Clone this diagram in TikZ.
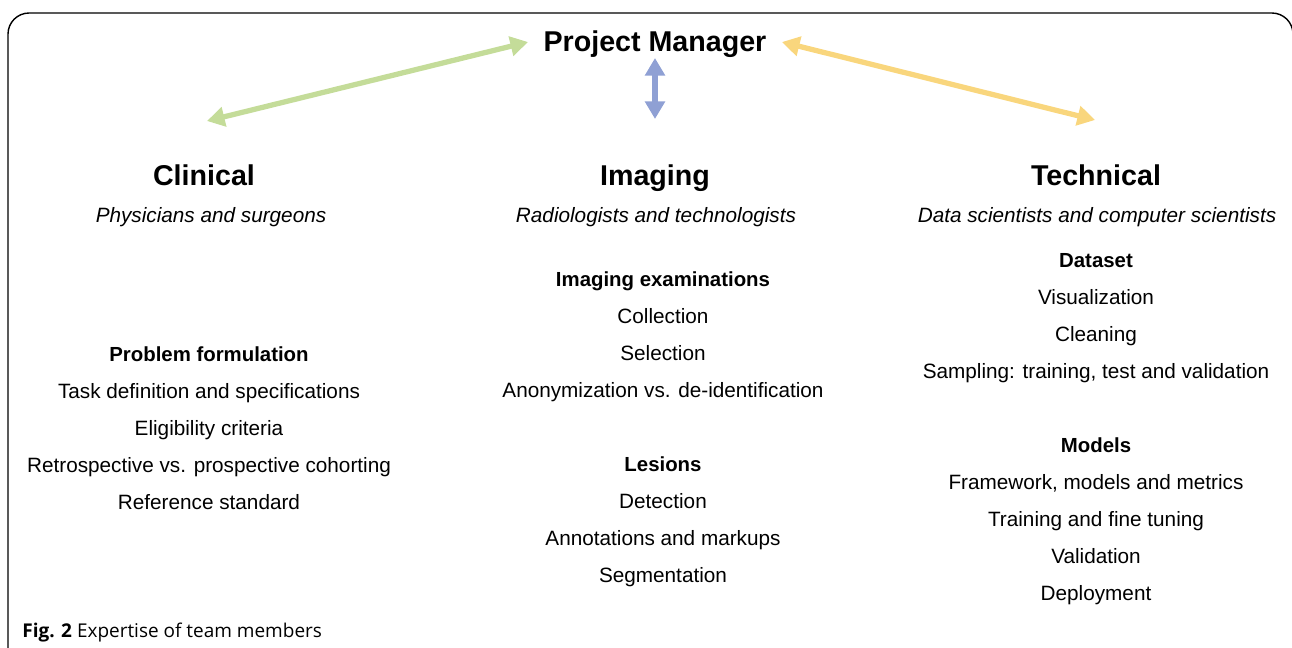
\documentclass[tikz,border=0pt]{standalone}
\usepackage{fontspec}
\setmainfont{Liberation Sans}
\newfontfamily\capfont{Open Sans}
\usetikzlibrary{arrows.meta}
\usetikzlibrary{positioning}
\definecolor{clingreen}{RGB}{196,220,153}
\definecolor{imgblue}{RGB}{143,160,212}
\definecolor{techyellow}{RGB}{249,214,125}
\tikzset{>={Triangle[width=11pt,length=10pt]}}

\begin{document}
\begin{tikzpicture}[x=0.02cm,y=-0.02cm,
	field/.style={inner sep=0pt, anchor=base, font=\bfseries\fontsize{16.3}{19}\selectfont},
	role/.style={inner sep=0pt, anchor=base, font=\itshape\fontsize{11.8}{14}\selectfont},
	topic/.style={inner sep=0pt, text height=1.5ex, text depth=.3ex, font=\bfseries\fontsize{11.6}{14}\selectfont},
	item/.style={inner sep=0pt, text height=1.5ex, text depth=.3ex, font=\fontsize{11.8}{14}\selectfont},
	link/.style={line width=3pt, <->},
	node distance=0.74cm, on grid]
	\useasboundingbox (0,0) rectangle (1292,647);
	\clip (0,0) rectangle (1292,647);
	\draw[line width=0.8pt, rounded corners=12] (8,670) -- (8,13) -- (1293,13) -- (1293,670);

	\node[field] (pm) at (655,51.5) {Project Manager};
	\node[field] (clin) at (204,185) {Clinical};
	\node[field] (img) at (655,185) {Imaging};
	\node[field] (tech) at (1096,185) {Technical};
	\node[role] (clinr) at (211,222) {Physicians and surgeons};
	\node[role] (imgr) at (656,222) {Radiologists and technologists};
	\node[role] (techr) at (1097,222) {Data scientists and computer scientists};

	% clinical
	\node[topic] (c0) at (209,356) {Problem formulation};
	\node[item] (c1) [below= of c0] {Task definition and specifications};
	\node[item] (c2) [below= of c1] {Eligibility criteria};
	\node[item] (c3) [below= of c2] {Retrospective vs. prospective cohorting};
	\node[item] (c4) [below= of c3] {Reference standard};

	% imaging
	\node[topic] (i0) at (663,281) {Imaging examinations};
	\node[item] (i1) [below= of i0] {Collection};
	\node[item] (i2) [below= of i1] {Selection};
	\node[item] (i3) [below= of i2] {Anonymization vs. de-identification};
	\node[topic] (i4) [below= 1.48cm of i3] {Lesions};
	\node[item] (i5) [below= of i4] {Detection};
	\node[item] (i6) [below= of i5] {Annotations and markups};
	\node[item] (i7) [below= of i6] {Segmentation};

	% technical
	\node[topic] (t0) at (1096,262) {Dataset};
	\node[item] (t1) [below= of t0] {Visualization};
	\node[item] (t2) [below= of t1] {Cleaning};
	\node[item] (t3) [below= of t2] {Sampling: training, test and validation};
	\node[topic] (t4) [below= 1.48cm of t3] {Models};
	\node[item] (t5) [below= of t4] {Framework, models and metrics};
	\node[item] (t6) [below= of t5] {Training and fine tuning};
	\node[item] (t7) [below= of t6] {Validation};
	\node[item] (t8) [below= of t7] {Deployment};

	\coordinate (pmL) at (528,42);
	\coordinate (pmB) at (655,58);
	\coordinate (pmR) at (782,42);
	\coordinate (clinT) at (207,121);
	\coordinate (imgT) at (655,119);
	\coordinate (techT) at (1095,120);
	\draw[link, clingreen] (clinT) -- (pmL);
	\draw[link, imgblue] (pmB) -- (imgT);
	\draw[link, techyellow] (pmR) -- (techT);

	\node[anchor=west, inner sep=0pt, font=\capfont\fontsize{10.8}{13}\selectfont] (cap) at (22,633) {\textbf{Fig. 2} Expertise of team members};
\end{tikzpicture}
\end{document}
